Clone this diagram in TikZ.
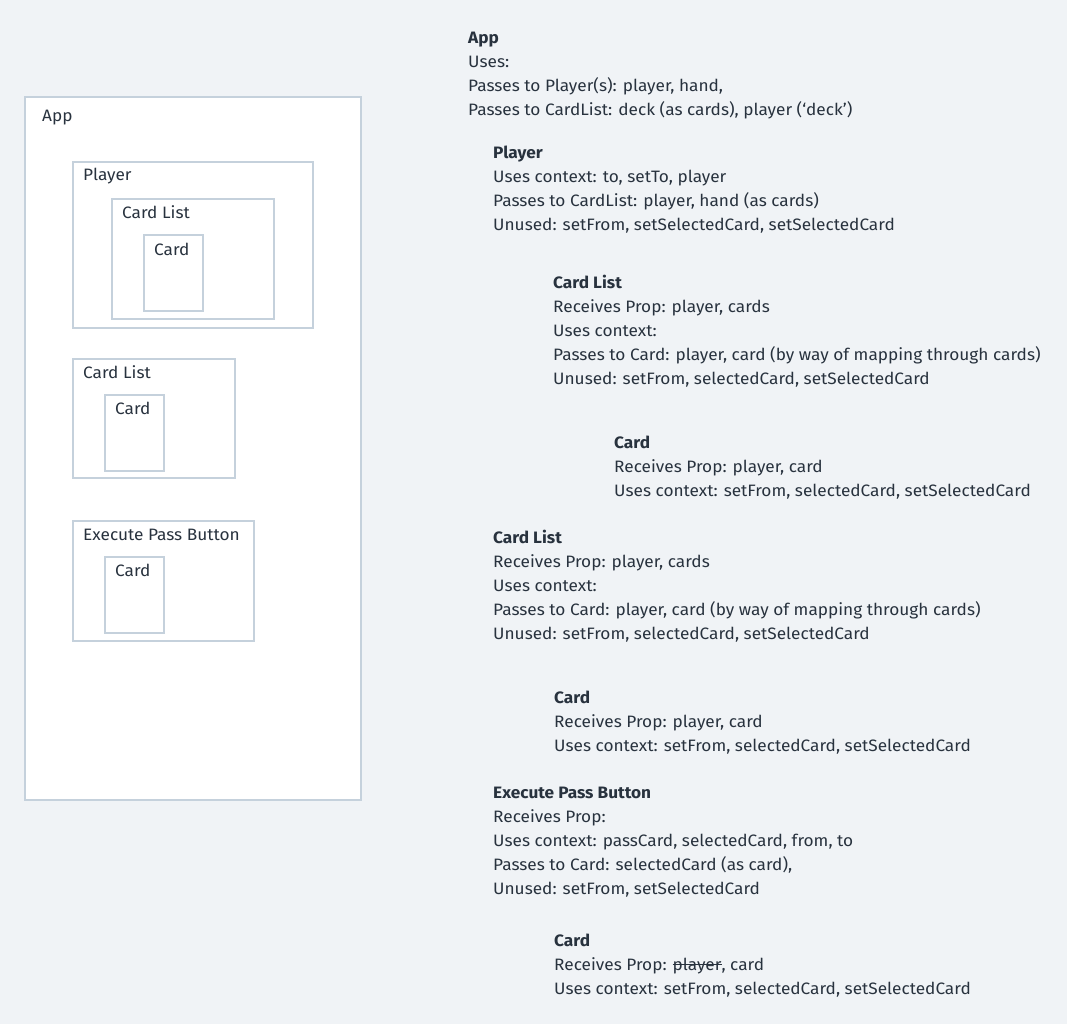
\documentclass[tikz,border=0pt]{standalone}
\usepackage{fontspec}
\setmainfont{Fira Sans}[FakeStretch=1.045]
\definecolor{bgc}{RGB}{240,243,246}
\definecolor{edgec}{RGB}{197,209,220}
\definecolor{txtc}{RGB}{40,50,62}
\newcommand\mystrk[1]{\setbox0\hbox{#1}\rlap{\raisebox{0.3em}{\rule{\wd0}{1pt}}}\box0}
\tikzset{
  boxc/.style={draw=edgec, line width=2pt, fill=white},
  lbl/.style={anchor=base west, inner sep=0pt, text=txtc, font=\fontsize{16.5}{24}\selectfont},
  ttl/.style={lbl, font=\fontsize{16.5}{24}\selectfont\bfseries},
}
\begin{document}
\begin{tikzpicture}[x=1pt,y=-1pt]
\fill[bgc] (0,0) rectangle (1067,1024);
\useasboundingbox (0,0) rectangle (1067,1024);
% left boxes
\draw[boxc] (25,97) rectangle (361,800);
\draw[boxc] (73,162) rectangle (313,328);
\draw[boxc] (112,199) rectangle (274,319);
\draw[boxc] (144,235.5) rectangle (203,311);
\draw[boxc] (73,359) rectangle (235,478);
\draw[boxc] (105,395) rectangle (164,471);
\draw[boxc] (73,521) rectangle (254,641);
\draw[boxc] (105,557) rectangle (164,633);
\node[lbl] (lApp) at (42,122) {App};
\node[lbl] (lPlayer) at (83,181) {Player};
\node[lbl] (lCL1) at (122,219) {Card List};
\node[lbl] (lC1) at (154,255) {Card};
\node[lbl] (lCL2) at (83,378) {Card List};
\node[lbl] (lC2) at (115,414) {Card};
\node[lbl] (lEPB) at (83,540) {Execute Pass Button};
\node[lbl] (lC3) at (115,576) {Card};
% right text
\node[ttl] (a0) at (468,44) {App};
\node[lbl] (a1) at (468,68) {Uses:};
\node[lbl] (a2) at (468,92) {Passes to Player(s): player, hand,};
\node[lbl] (a3) at (468,116) {Passes to CardList: deck (as cards), player (‘deck’)};
\node[ttl] (p0) at (493,159) {Player};
\node[lbl] (p1) at (493,183) {Uses context: to, setTo, player};
\node[lbl] (p2) at (493,207) {Passes to CardList: player, hand (as cards)};
\node[lbl] (p3) at (493,231) {Unused: setFrom, setSelectedCard, setSelectedCard};
\node[ttl] (c0) at (553,288) {Card List};
\node[lbl] (c1) at (553,312) {Receives Prop: player, cards};
\node[lbl] (c2) at (553,336) {Uses context:};
\node[lbl] (c3) at (553,360) {Passes to Card: player, card (by way of mapping through cards)};
\node[lbl] (c4) at (553,384) {Unused: setFrom, selectedCard, setSelectedCard};
\node[ttl] (d0) at (614,448) {Card};
\node[lbl] (d1) at (614,472) {Receives Prop: player, card};
\node[lbl] (d2) at (614,496) {Uses context: setFrom, selectedCard, setSelectedCard};
\node[ttl] (e0) at (493,543) {Card List};
\node[lbl] (e1) at (493,567) {Receives Prop: player, cards};
\node[lbl] (e2) at (493,591) {Uses context:};
\node[lbl] (e3) at (493,615) {Passes to Card: player, card (by way of mapping through cards)};
\node[lbl] (e4) at (493,639) {Unused: setFrom, selectedCard, setSelectedCard};
\node[ttl] (f0) at (554,703) {Card};
\node[lbl] (f1) at (554,727) {Receives Prop: player, card};
\node[lbl] (f2) at (554,751) {Uses context: setFrom, selectedCard, setSelectedCard};
\node[ttl] (g0) at (493,798) {Execute Pass Button};
\node[lbl] (g1) at (493,822) {Receives Prop:};
\node[lbl] (g2) at (493,846) {Uses context: passCard, selectedCard, from, to};
\node[lbl] (g3) at (493,870) {Passes to Card: selectedCard (as card),};
\node[lbl] (g4) at (493,894) {Unused: setFrom, setSelectedCard};
\node[ttl] (h0) at (554,946) {Card};
\node[lbl] (h1) at (554,970) {Receives Prop: \mystrk{player}, card};
\node[lbl] (h2) at (554,994) {Uses context: setFrom, selectedCard, setSelectedCard};
\end{tikzpicture}
\end{document}
